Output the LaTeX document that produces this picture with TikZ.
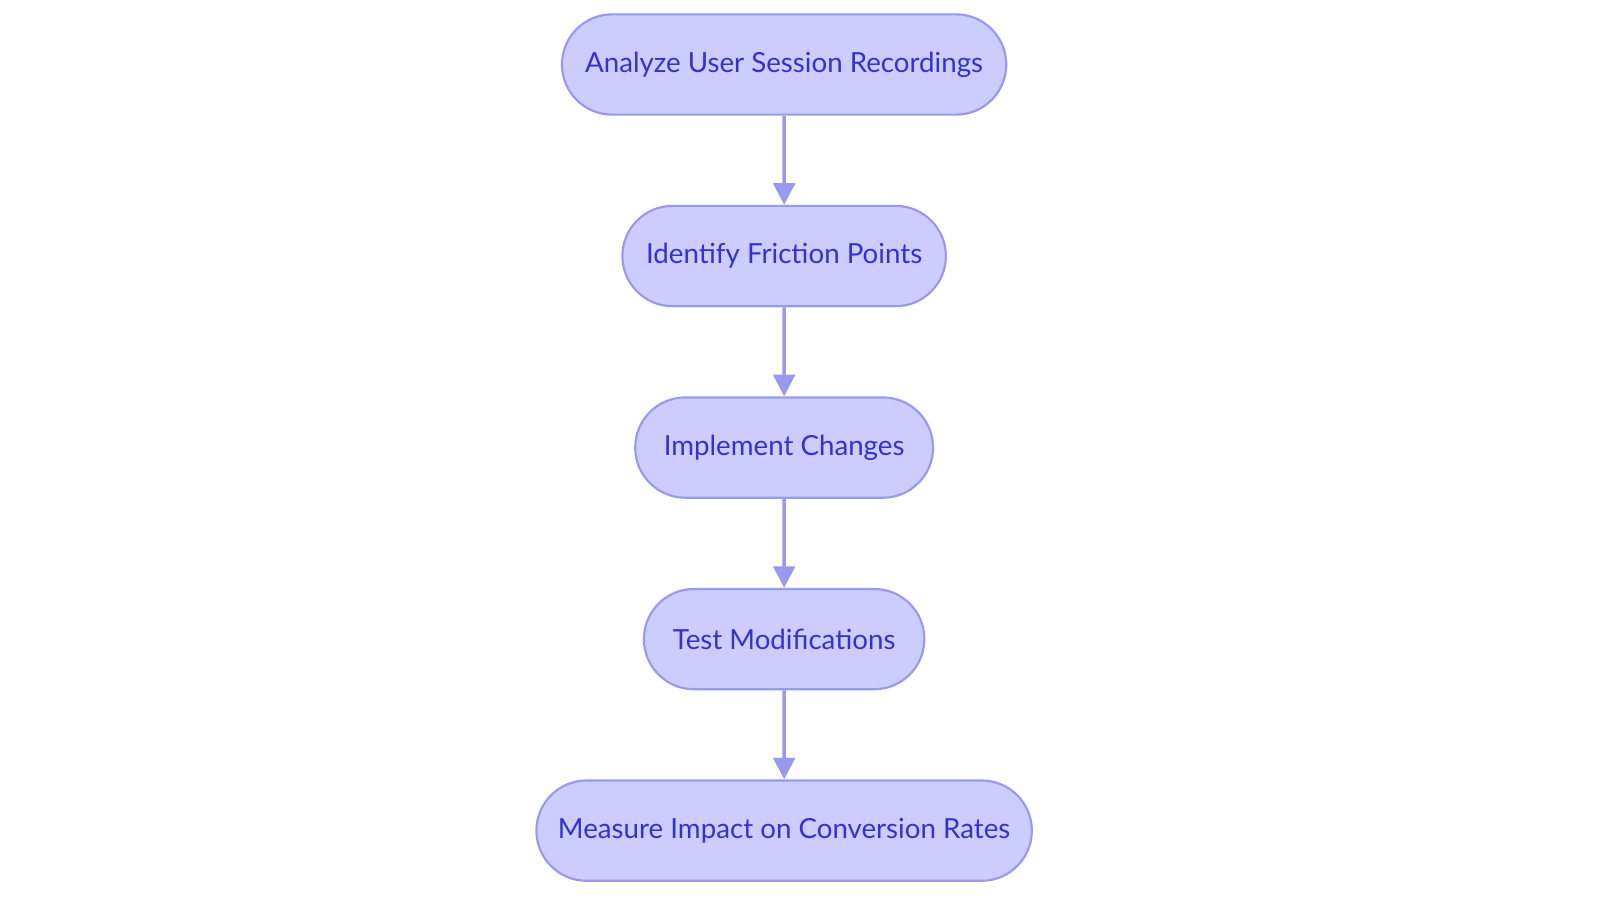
\documentclass[tikz,border=0pt]{standalone}
\usepackage{fontspec}
\setmainfont{Lato}
\usetikzlibrary{positioning,shapes.misc,arrows.meta}
\definecolor{stepfill}{HTML}{CCCCFF}
\definecolor{stepline}{HTML}{9999EE}
\definecolor{steptext}{HTML}{3333CC}

\begin{document}
\begin{tikzpicture}[
  stage/.style={rounded rectangle,draw=stepline,fill=stepfill,line width=.6pt,
    text=steptext,minimum height=.98cm,inner xsep=0pt,font=\fontsize{7.7}{9}\selectfont},
  flow/.style={-{Triangle[length=6pt,width=6pt]},draw=stepline,line width=1pt},
  node distance=.87cm]
\useasboundingbox (0,0) rectangle (15.63,-8.82);
\node[stage,minimum width=4.34cm] (analyze) at (7.66,-.63) {Analyze User Session Recordings};
\node[stage,minimum width=3.16cm,below=of analyze] (identify) {Identify Friction Points};
\node[stage,minimum width=2.91cm,below=of identify] (implement) {Implement Changes};
\node[stage,minimum width=2.74cm,below=of implement] (test) {Test Modifications};
\node[stage,minimum width=4.84cm,below=of test] (measure) {Measure Impact on Conversion Rates};
\draw[flow] (analyze) -- (identify);
\draw[flow] (identify) -- (implement);
\draw[flow] (implement) -- (test);
\draw[flow] (test) -- (measure);
\end{tikzpicture}
\end{document}
